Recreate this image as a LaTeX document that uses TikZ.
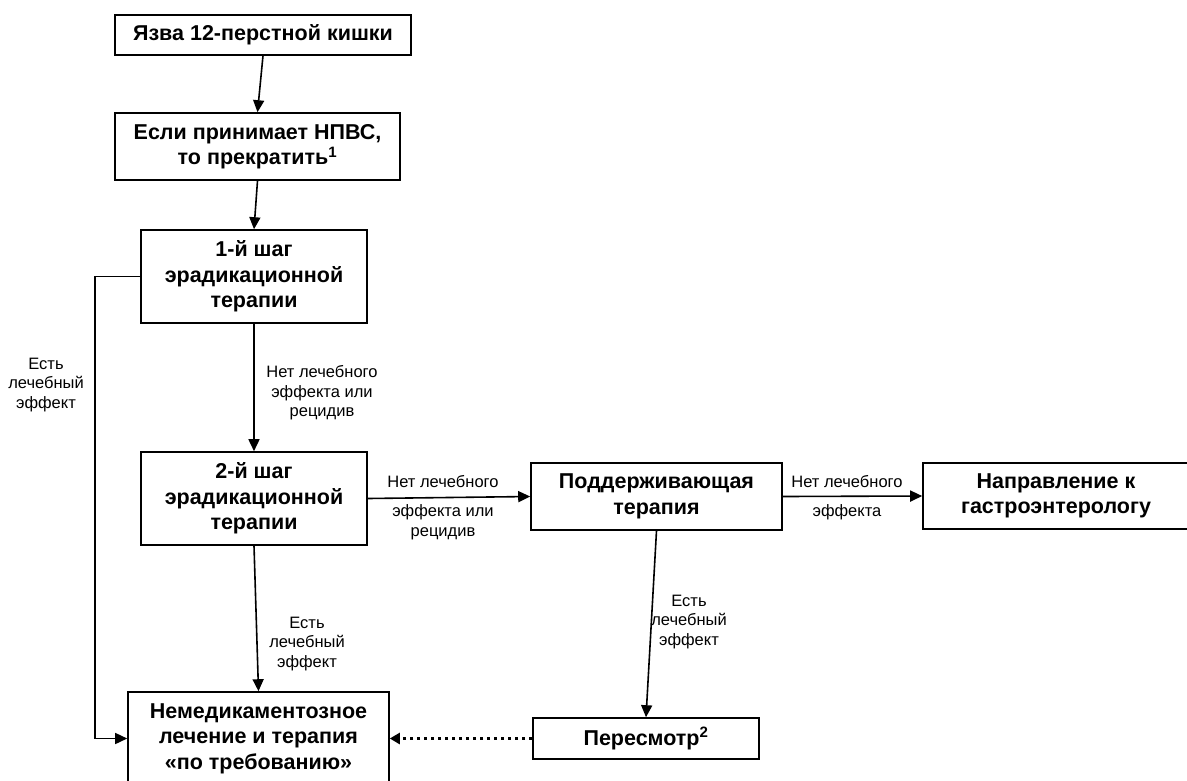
\documentclass[tikz,border=0pt]{standalone}
\usepackage{fontspec}
\setmainfont{Liberation Sans}
\usetikzlibrary{arrows.meta,calc}
\begin{document}
\begin{tikzpicture}[x=1pt,y=-1pt,
  box/.style={draw, line width=1.6pt, inner sep=0pt, align=center, font=\fontsize{21.5}{25.5}\selectfont\bfseries},
  lbl/.style={align=center, inner sep=0pt, font=\fontsize{16.5}{19.5}\selectfont},
  arr/.style={line width=1.6pt, -{Triangle[length=12pt,width=11pt]}},
  dotarr/.style={line width=3.5pt, dash pattern=on 3.5pt off 3.5pt, -{Triangle[length=10pt,width=11pt]}}]
\useasboundingbox (0,0) rectangle (1187,780);
% boxes
\node[box, minimum width=296pt, minimum height=40pt] (b1) at (263,35) {Язва 12-перстной кишки};
\node[box, minimum width=285pt, minimum height=67pt] (b2) at (257.5,146.5) {Если принимает НПВС,\\то прекратить\textsuperscript{1}};
\node[box, minimum width=226pt, minimum height=93pt] (b3) at (254,276.5) {1-й шаг\\эрадикационной\\терапии};
\node[box, minimum width=226pt, minimum height=93pt] (b4) at (254,498.5) {2-й шаг\\эрадикационной\\терапии};
\node[box, minimum width=251pt, minimum height=67pt] (b5) at (656.5,496.5) {Поддерживающая\\терапия};
\node[box, minimum width=266pt, minimum height=66pt] (b6) at (1056,496) {Направление к\\гастроэнтерологу};
\node[box, minimum width=261pt, minimum height=93pt] (b7) at (258.5,738.5) {Немедикаментозное\\лечение и терапия\\«по требованию»};
\node[box, minimum width=226pt, minimum height=41pt] (b8) at (646,738.5) {Пересмотр\textsuperscript{2}};
% labels
\node[lbl] (l1) at (46,385) {Есть\\лечебный\\эффект};
\node[lbl] (l2) at (322,393) {Нет лечебного\\эффекта или\\рецидив};
\node[lbl] (l3) at (443,482) {Нет лечебного};
\node[lbl, font=\fontsize{16.5}{20}\selectfont] (l4) at (443,522) {эффекта или\\рецидив};
\node[lbl] (l5) at (847,482) {Нет лечебного};
\node[lbl] (l6) at (847,512) {эффекта};
\node[lbl] (l7) at (307,644) {Есть\\лечебный\\эффект};
\node[lbl] (l8) at (689,622) {Есть\\лечебный\\эффект};
% connectors
\coordinate (lc) at (95,0);
\draw[arr] (b1.south) -- (b2.north);
\draw[arr] (b2.south) -- (b3.north);
\draw[arr] (b3.south) -- (b4.north);
\draw[arr] (b4.south) -- (b7.north);
\draw[arr] (b3.west) -- (b3.west -| lc) |- (b7.west);
\draw[arr] (b4.east) -- (b5.west);
\draw[arr] (b5.east) -- (b6.west);
\draw[arr] (b5.south) -- (b8.north);
\draw[dotarr] (b8.west) -- (b7.east);
\end{tikzpicture}
\end{document}
